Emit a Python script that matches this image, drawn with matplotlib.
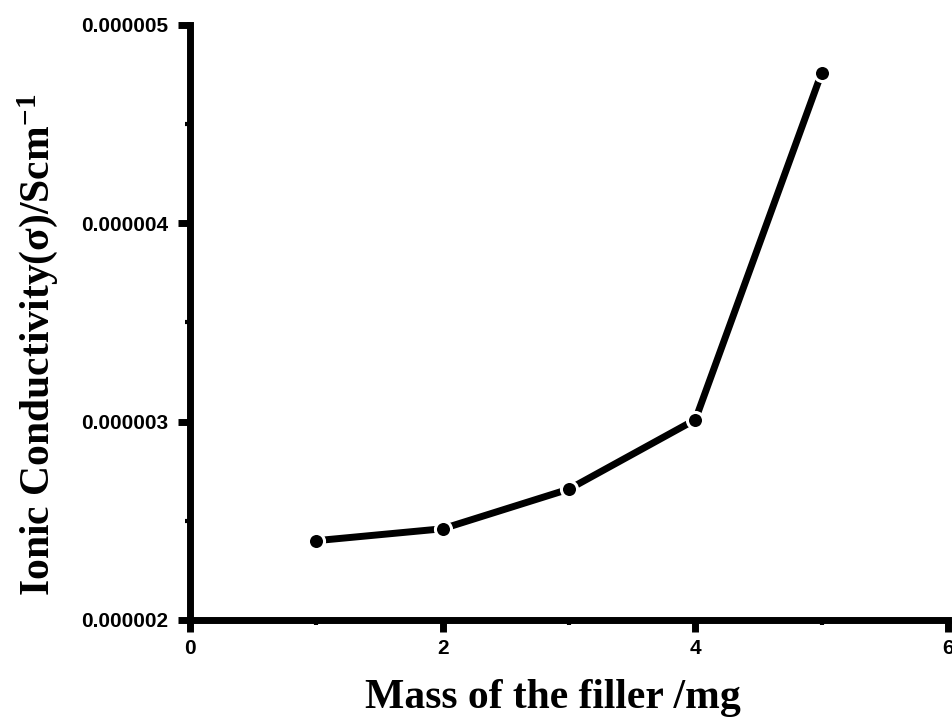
import matplotlib
matplotlib.use('Agg')
import matplotlib.pyplot as plt
from matplotlib.ticker import MultipleLocator, FormatStrFormatter

# filler mass (mg) vs ionic conductivity (S/cm)
mass = [1, 2, 3, 4, 5]
sigma = [2.40e-6, 2.46e-6, 2.66e-6, 3.01e-6, 4.76e-6]

plt.rcParams['mathtext.fontset'] = 'custom'
plt.rcParams['mathtext.rm'] = 'Liberation Serif:bold'
plt.rcParams['mathtext.default'] = 'rm'

fig = plt.figure(figsize=(9.53, 7.18), dpi=100)
ax = fig.add_axes([0.1994, 0.1365, 0.7954, 0.8287])

ax.plot(mass, sigma, color='black', lw=5, marker='o', markersize=11.6,
        markerfacecolor='black', markeredgecolor='white', markeredgewidth=2.2,
        solid_capstyle='butt')

ax.set_xlim(0, 6)
ax.set_ylim(2e-6, 5e-6)
ax.xaxis.set_major_locator(MultipleLocator(2))
ax.xaxis.set_minor_locator(MultipleLocator(1))
ax.yaxis.set_major_locator(MultipleLocator(1e-6))
ax.yaxis.set_minor_locator(MultipleLocator(0.5e-6))
ax.yaxis.set_major_formatter(FormatStrFormatter('%.6f'))
ax.xaxis.set_major_formatter(FormatStrFormatter('%d'))

for s in ['top', 'right']:
    ax.spines[s].set_visible(False)
for s in ['left', 'bottom']:
    ax.spines[s].set_linewidth(5)

ax.tick_params(which='major', direction='out', length=8.5, width=5)
ax.tick_params(which='minor', direction='out', length=3.6, width=3)
ax.tick_params(axis='x', which='major', pad=5)
ax.tick_params(axis='y', which='major', pad=7)
for lab in ax.get_xticklabels() + ax.get_yticklabels():
    lab.set_fontfamily('Liberation Sans')
    lab.set_fontweight('bold')
    lab.set_fontsize(15)

ax.set_xlabel('Mass of the filler /mg', fontfamily='Liberation Serif',
              fontweight='bold', fontsize=30)
ax.set_ylabel('Ionic Conductivity(σ)/Scm$^{-1}$', fontfamily='Liberation Serif',
              fontweight='bold', fontsize=30)
ax.xaxis.set_label_coords(0.479, -0.1)
ax.yaxis.set_label_coords(-0.1715, 0.462)

fig.savefig('out.png', dpi=100)
